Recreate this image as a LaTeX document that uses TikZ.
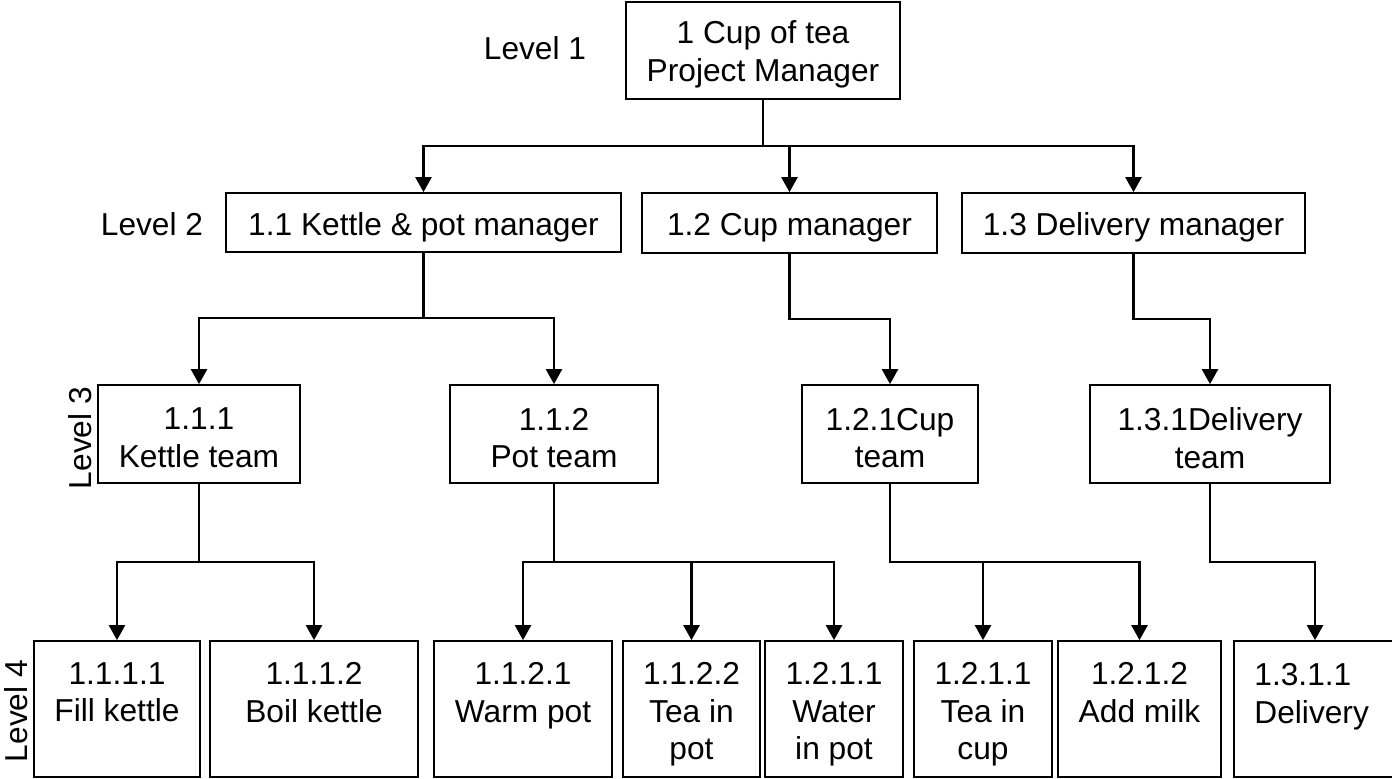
\documentclass[tikz,border=0pt]{standalone}
\usepackage{fontspec}
\setmainfont{Liberation Sans}
\usetikzlibrary{arrows.meta}
\begin{document}
\begin{tikzpicture}[x=0.5pt,y=-0.5pt,
  every node/.style={font=\fontsize{15.85}{18.8}\selectfont, inner sep=0pt},
  sz/.style 2 args={minimum width=#1*0.5pt, minimum height=#2*0.5pt},
  frame/.style={draw, line width=0.85pt},
  onerow/.style={frame, text height=12.9pt, text depth=0pt},
  inbox/.style={align=center, yshift=-2pt},
  leaftext/.style={anchor=north, align=center, yshift=-11pt},
  lvl/.style={text height=11.4pt, text depth=0pt},
  conn/.style={line width=1.2pt},
  arr/.style={conn, -{Triangle[length=7.5pt,width=8pt]}}
]
\useasboundingbox (0,0) rectangle (1392,779);
\clip (0,0) rectangle (1392,779);

% level labels
\node[lvl] (lv1) at (535,48) {Level 1};
\node[lvl] (lv2) at (152,224) {Level 2};
\node[lvl, rotate=90] (lv3) at (80.5,438) {Level 3};
\node[lvl, rotate=90] (lv4) at (16.5,711) {Level 4};

% level 1
\node[frame, sz={274}{97}] (l1) at (763,50.5) {};
\node[inbox] (l1t) at (l1.center) {1 Cup of tea\\Project Manager};

% level 2
\node[onerow, sz={395}{59}] (m11) at (423.5,222.5) {1.1 Kettle \& pot manager};
\node[onerow, sz={295}{60}] (m12) at (789.5,223) {1.2 Cup manager};
\node[onerow, sz={343}{60}] (m13) at (1133.5,223) {1.3 Delivery manager};

% level 3
\node[frame, sz={202}{98}] (t111) at (199,434) {};
\node[frame, sz={208}{98}] (t112) at (554,434) {};
\node[frame, sz={176}{98}] (t121) at (890,434) {};
\node[frame, sz={240}{98}] (t131) at (1210,434) {};
\node[inbox] (t111t) at (t111.center) {1.1.1\\Kettle team};
\node[inbox] (t112t) at (t112.center) {1.1.2\\Pot team};
\node[inbox] (t121t) at (t121.center) {1.2.1Cup\\team};
\node[inbox] (t131t) at (t131.center) {1.3.1Delivery\\team};

% level 4 boxes
\node[frame, sz={166}{136}] (w1) at (117,709) {};
\node[frame, sz={208}{136}] (w2) at (314,709) {};
\node[frame, sz={178}{136}] (w3) at (523,709) {};
\node[frame, sz={137}{136}] (w4) at (691.5,709) {};
\node[frame, sz={138}{136}] (w5) at (834,709) {};
\node[frame, sz={138}{136}] (w6) at (983,709) {};
\node[frame, sz={163}{136}] (w7) at (1139.5,709) {};
\node[frame, sz={162}{136}] (w8) at (1315,709) {};

% level 4 texts, set from the top of each box
\node[leaftext] (w1t) at (w1.north) {1.1.1.1\\Fill kettle};
\node[leaftext] (w2t) at (w2.north) {1.1.1.2\\Boil kettle};
\node[leaftext] (w3t) at (w3.north) {1.1.2.1\\Warm pot};
\node[leaftext] (w4t) at (w4.north) {1.1.2.2\\Tea in\\pot};
\node[leaftext] (w5t) at (w5.north) {1.2.1.1\\Water\\in pot};
\node[leaftext] (w6t) at (w6.north) {1.2.1.1\\Tea in\\cup};
\node[leaftext] (w7t) at (w7.north) {1.2.1.2\\Add milk};
\node[leaftext, anchor=north west, align=left] (w8t) at (1254,641) {1.3.1.1\\Delivery};

% branch points
\coordinate (b1) at (763,146);
\coordinate (b2) at (423.5,318);
\coordinate (b3) at (789.5,319);
\coordinate (b4) at (1133.5,319);
\coordinate (b5) at (199,562);
\coordinate (b6) at (554,562);
\coordinate (b7) at (890,562);
\coordinate (b8) at (1210,562);

% level 1 -> level 2
\draw[arr] (l1.south) -- (b1) -| (m11.north);
\draw[arr] (l1.south) -- (b1) -| (m12.north);
\draw[arr] (l1.south) -- (b1) -| (m13.north);

% level 2 -> level 3
\draw[arr] (m11.south) -- (b2) -| (t111.north);
\draw[arr] (m11.south) -- (b2) -| (t112.north);
\draw[arr] (m12.south) -- (b3) -| (t121.north);
\draw[arr] (m13.south) -- (b4) -| (t131.north);

% level 3 -> level 4
\draw[arr] (t111.south) -- (b5) -| (w1.north);
\draw[arr] (t111.south) -- (b5) -| (w2.north);
\draw[arr] (t112.south) -- (b6) -| (w3.north);
\draw[arr] (t112.south) -- (b6) -| (w4.north);
\draw[arr] (t112.south) -- (b6) -| (w5.north);
\draw[arr] (t121.south) -- (b7) -| (w6.north);
\draw[arr] (t121.south) -- (b7) -| (w7.north);
\draw[arr] (t131.south) -- (b8) -| (w8.north);
\end{tikzpicture}
\end{document}
